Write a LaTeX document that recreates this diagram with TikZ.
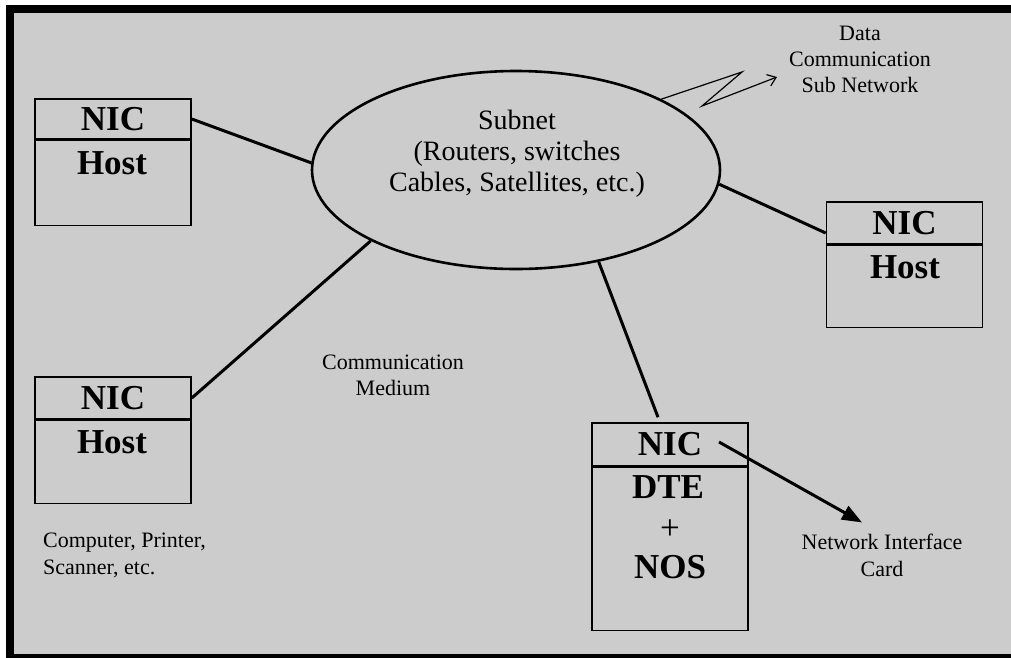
\documentclass[tikz,border=0pt]{standalone}
\usepackage{fontspec}
\setmainfont{Liberation Serif}
\usetikzlibrary{shapes.geometric,arrows.meta,calc}
\definecolor{panelgray}{HTML}{CCCCCC}
\begin{document}
\begin{tikzpicture}[x=1pt,y=-1pt,
  part/.style={draw, line width=1.6pt, minimum width=156pt, inner sep=0pt,
               font=\fontsize{35}{40}\selectfont\bfseries},
  bold/.style={inner sep=0pt, font=\fontsize{35}{40}\selectfont\bfseries},
  plain/.style={inner sep=0pt, font=\fontsize{35}{40}\selectfont},
  note/.style={inner sep=0pt, align=center, font=\fontsize{22}{26}\selectfont},
  link/.style={line width=3pt},
]
\useasboundingbox (0,0) rectangle (1011,657);
% frame and panel
\fill[white] (0,0) rectangle (1011,657);
\fill[black] (6,5) rectangle (1020,665);
\fill[panelgray] (14,13) rectangle (1020,654);

% subnet
\node[draw, ellipse, line width=2.6pt, minimum width=408pt, minimum height=198pt,
      inner sep=0pt] (subnet) at (516,170) {};
\node[inner sep=0pt, align=center, font=\fontsize{28}{31}\selectfont]
  (subnettext) at (517,154) {Subnet\\(Routers, switches\\Cables, Satellites, etc.)};

% host, upper left
\node[part, minimum height=40pt] (nic1) at (113,119) {NIC};
\node[part, minimum height=85pt, anchor=north] (body1) at (nic1.south) {};
\node[bold] (host1) at (112,163) {Host};

% host, lower left
\node[part, minimum height=42pt] (nic2) at (113,398) {NIC};
\node[part, minimum height=83pt, anchor=north] (body2) at (nic2.south) {};
\node[bold] (host2) at (112,442) {Host};

% host, right
\node[part, minimum height=42pt] (nic3) at (904.5,223) {NIC};
\node[part, minimum height=82pt, anchor=north] (body3) at (nic3.south) {};
\node[bold] (host3) at (905,267) {Host};

% DTE with network operating system
\node[part, minimum height=43pt] (nic4) at (670,444.5) {NIC};
\node[part, minimum height=163pt, anchor=north] (body4) at (nic4.south) {};
\node[bold] (dte) at (668,487) {DTE};
\node[plain] (plus) at (670,530) {+};
\node[bold] (nos) at (670,567) {NOS};

% labels
\node[note] (dcsn) at (860,59) {Data\\Communication\\Sub Network};
\node[note] (medium) at (393,375) {Communication\\Medium};
\node[note, align=left, anchor=west, font=\fontsize{22}{27}\selectfont]
  (devices) at (43,555) {Computer, Printer,\\Scanner, etc.};
\node[note, font=\fontsize{22}{27}\selectfont] (niclabel) at (882,555) {Network Interface\\Card};

% media links
\draw[link] (nic1.east) -- (subnet.178);
\draw[link] (nic2.east) -- (subnet.206);
\draw[link] (subnet.356) -- ($(nic3.west)+(0,10)$);
\draw[link] ($(nic4.north)+(-12,-5)$) -- (subnet.312);

% NIC callout
\draw[line width=3pt, -{Triangle[length=20pt,width=15pt]}]
  ($(nic4.center)+(49,-2.5)$) -- ($(niclabel.north)+(-20,-11)$);

% wireless link
\coordinate (zz1) at (742,72);
\coordinate (zz2) at (702,106);
\coordinate (zzend) at (777,77);
\draw[line width=1.2pt, -{Straight Barb[length=8pt,width=12pt]}]
  (subnet.26) -- (zz1) -- (zz2) -- (zzend);
\end{tikzpicture}
\end{document}
